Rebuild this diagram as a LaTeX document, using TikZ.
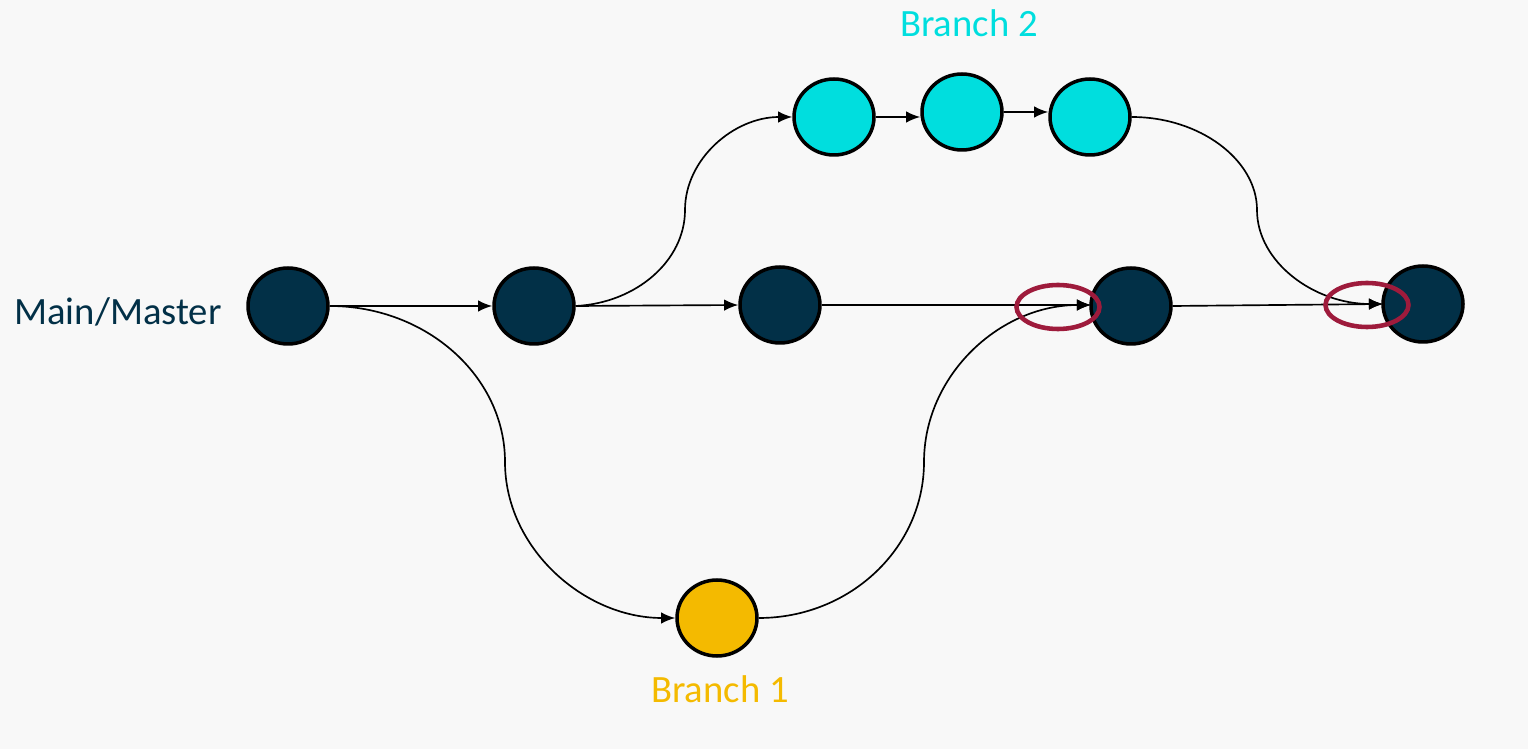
\documentclass[tikz,border=0pt]{standalone}
\usepackage{fontspec}
\setmainfont{Carlito}
\usetikzlibrary{shapes.geometric,arrows.meta}
\definecolor{bgc}{HTML}{F8F8F8}
\definecolor{navy}{HTML}{023047}
\definecolor{aqua}{HTML}{00DEDE}
\definecolor{amber}{HTML}{F4BA00}
\definecolor{crimson}{HTML}{9E1B3C}
\tikzset{
  commit/.style={ellipse, draw=black, line width=2pt, inner sep=0pt,
                 minimum width=1.6cm, minimum height=1.52cm},
  mainc/.style={commit, fill=navy},
  b2c/.style={commit, fill=aqua},
  b1c/.style={commit, fill=amber},
  link/.style={line width=0.95pt, -{Latex[length=8pt,width=6.5pt]}},
  mark ring/.style={ellipse, draw=crimson, line width=2.6pt, inner sep=0pt,
                    minimum width=1.66cm, minimum height=0.88cm},
  lbl/.style={font=\fontsize{22}{26}\selectfont, inner sep=0pt}
}
\begin{document}
\begin{tikzpicture}[x=0.02cm, y=-0.02cm]
  \fill[bgc] (0,0) rectangle (1528,749);
  \useasboundingbox (0,0) rectangle (1528,749);

  % main line commits
  \node[mainc] (m1) at (288,306) {};
  \node[mainc] (m2) at (534,306) {};
  \node[mainc] (m3) at (780,305) {};
  \node[mainc] (m4) at (1131,306) {};
  \node[mainc] (m5) at (1423,304) {};
  % branch 2 commits
  \node[b2c] (c1) at (834,117) {};
  \node[b2c] (c2) at (962,112) {};
  \node[b2c] (c3) at (1090,117) {};
  % branch 1 commit
  \node[b1c] (y1) at (717,618) {};

  % labels
  \node[lbl, text=navy] (tmain) at (118,312) {Main/Master};
  \node[lbl, text=aqua] (tb2) at (969,23) {Branch 2};
  \node[lbl, text=amber] (tb1) at (720,689) {Branch 1};

  % merge points
  \coordinate (j1) at (1091,305);
  \coordinate (j2) at (1383,304);

  % main line
  \draw[link] (m1.east) -- (m2.west);
  \draw[link] (m2.east) -- (m3.west);
  \draw[link] (m3.east) -- (j1);
  \draw[link] (m4.east) -- (j2);

  % branch 2
  \draw[link] (m2.east) .. controls (636,303) and (685,261) .. (685,210)
                        .. controls (685,159) and (734,117) .. (c1.west);
  \draw[link] (c1.east) -- (c2.west |- c1.east);
  \draw[link] (c2.east) -- (c3.west |- c2.east);
  \draw[link] (c3.east) .. controls (1200,117) and (1257,160) .. (1257,210)
                        .. controls (1257,262) and (1314,304) .. (j2);

  % branch 1
  \draw[link] (m1.east) .. controls (426,306) and (505,376) .. (505,462)
                        .. controls (505,548) and (584,618) .. (y1.west);
  \draw[link] (y1.east) .. controls (850,618) and (924,548) .. (924,462)
                        .. controls (924,376) and (999,305) .. (j1);

  % highlighted merge arrivals
  \node[mark ring] (r1) at (1058,307) {};
  \node[mark ring] (r2) at (1367,305) {};
\end{tikzpicture}
\end{document}
